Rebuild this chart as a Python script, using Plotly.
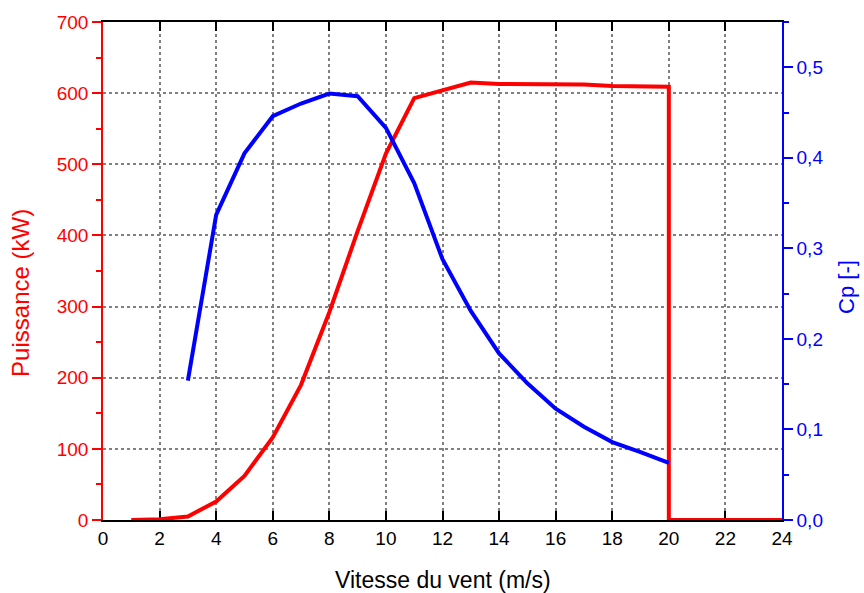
import plotly.graph_objects as go

# Data
wind_power = [1, 2, 3, 4, 5, 6, 7, 8, 9, 10, 11, 12, 13, 14, 15, 16, 17, 18, 19, 20, 20, 24]
power_kw = [0, 1, 5, 26, 62, 116, 190, 292, 406, 515, 593, 604, 615, 613, 613, 612, 612, 610, 610, 609, 0, 0]

wind_cp = [3, 4, 5, 6, 7, 8, 9, 10, 11, 12, 13, 14, 15, 16, 17, 18, 19, 20]
cp = [0.154, 0.337, 0.405, 0.446, 0.460, 0.471, 0.468, 0.433, 0.372, 0.288, 0.231, 0.184,
      0.151, 0.123, 0.103, 0.086, 0.075, 0.063]

x_ticks = list(range(0, 25, 2))

x_title = "Vitesse du vent (m/s)"
y_title = "Puissance (kW)"
y2_title = "Cp [-]"

font_family = "Liberation Sans, Arial, sans-serif"

fig = go.Figure()
fig.add_trace(go.Scatter(x=wind_power, y=power_kw, mode="lines",
                         line=dict(color="#ff0000", width=4), yaxis="y",
                         showlegend=False))
fig.add_trace(go.Scatter(x=wind_cp, y=cp, mode="lines",
                         line=dict(color="#0000ff", width=4), yaxis="y2",
                         showlegend=False))

grid = dict(showgrid=True, gridcolor="#808080", griddash="dot", gridwidth=2)

fig.update_layout(
    width=864, height=593,
    margin=dict(l=103, r=82, t=22, b=73),
    paper_bgcolor="white", plot_bgcolor="white",
    separators=", ",
    font=dict(family=font_family, size=19, color="black"),
    xaxis=dict(
        range=[0, 24], tickvals=x_ticks, ticks="inside", ticklen=9, tickwidth=1.5,
        tickcolor="black", showline=True, linecolor="black", linewidth=1.5,
        mirror="ticks", zeroline=False, layer="below traces", automargin=False,
        tickfont=dict(size=19, color="black"),
        **grid,
    ),
    yaxis=dict(
        range=[0, 700], dtick=100, ticks="outside", ticklen=9, tickwidth=1.5,
        tickcolor="#ff0000", showline=True, linecolor="#ff0000", linewidth=1.5,
        zeroline=False, layer="below traces", automargin=False,
        minor=dict(dtick=50, ticks="outside", ticklen=5, tickcolor="#ff0000", showgrid=False),
        tickfont=dict(size=19, color="#ff0000"),
        **grid,
    ),
    yaxis2=dict(
        overlaying="y", side="right", range=[0, 0.55], dtick=0.1, tickformat=".1f",
        ticks="outside", ticklen=9, tickwidth=1.5, tickcolor="#0000ff",
        showline=True, linecolor="#0000ff", linewidth=1.5, showgrid=False,
        zeroline=False, layer="below traces", automargin=False,
        minor=dict(dtick=0.05, ticks="outside", ticklen=5, tickcolor="#0000ff", showgrid=False),
        tickfont=dict(size=19, color="#0000ff"),
    ),
    annotations=[
        dict(text=x_title, xref="paper", yref="paper", x=0.5, y=-0.1205,
             xanchor="center", yanchor="middle", showarrow=False,
             font=dict(size=23, color="black")),
        dict(text=y_title, xref="paper", yref="paper", x=-0.1208, y=0.456,
             xanchor="center", yanchor="middle", textangle=-90, showarrow=False,
             font=dict(size=24, color="#ff0000")),
        dict(text=y2_title, xref="paper", yref="paper", x=1.0957, y=0.468,
             xanchor="center", yanchor="middle", textangle=-90, showarrow=False,
             font=dict(size=22, color="#0000ff")),
    ],
)

fig.write_html("out.html")
